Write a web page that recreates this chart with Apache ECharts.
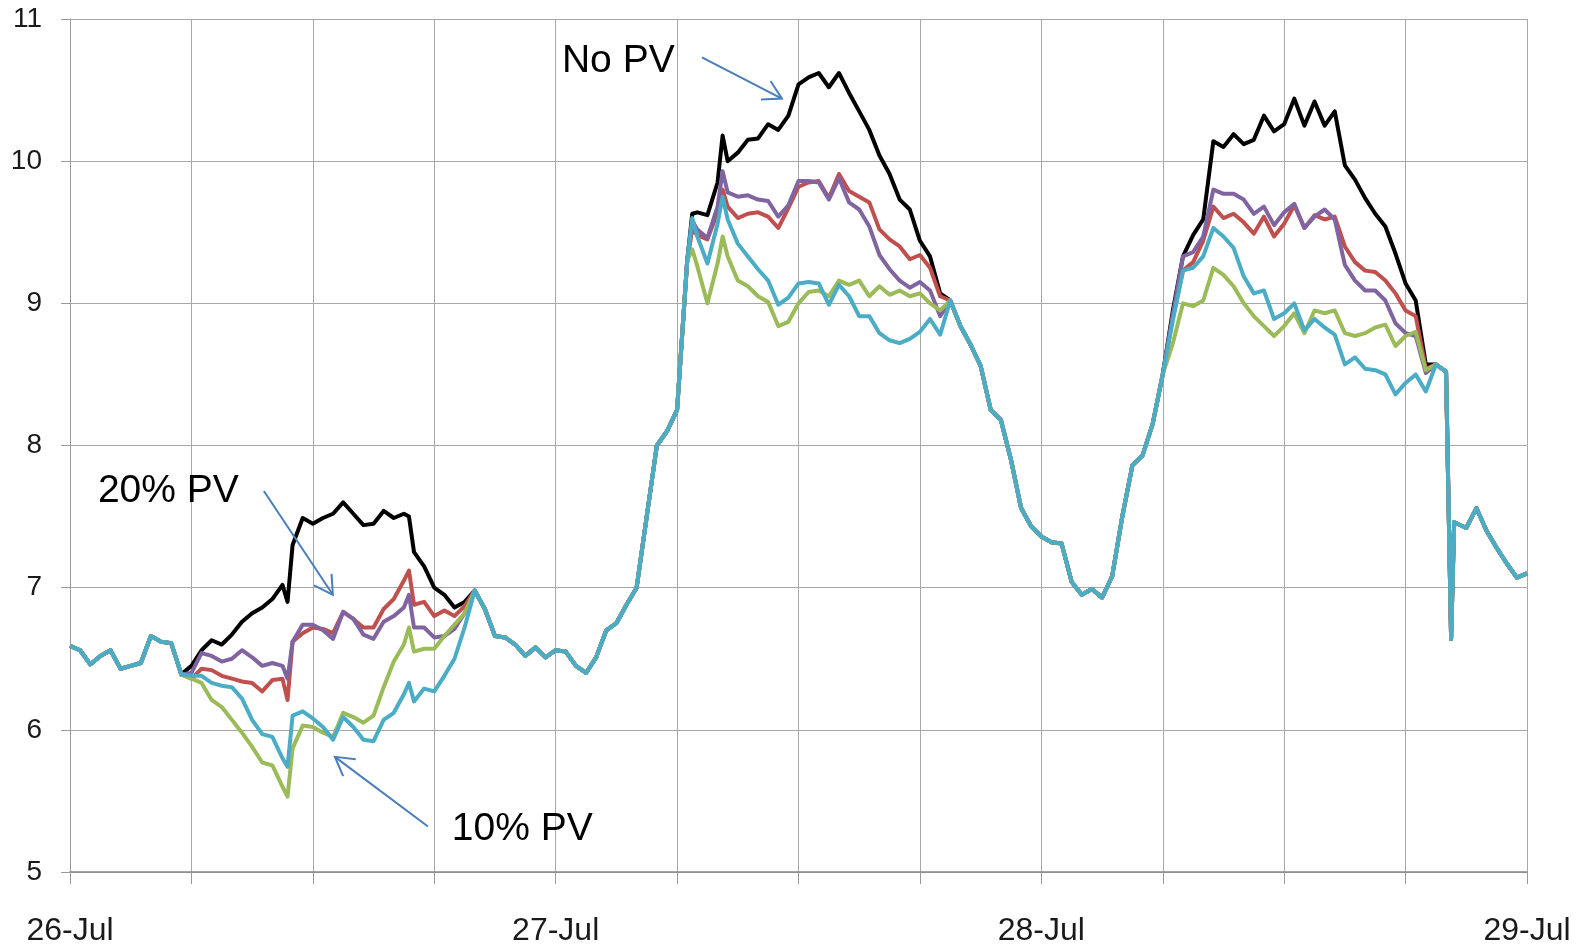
<!DOCTYPE html>
<html><head><meta charset="utf-8">
<script src="https://cdn.jsdelivr.net/npm/echarts@6/dist/echarts.min.js"></script>
<style>html,body{margin:0;padding:0;background:#fff}#chart{width:1580px;height:947px}</style>
</head><body><div id="chart"></div>
<script>
// x = hours since 26-Jul 00:00
const dayLabels = {0: '26-Jul', 24: '27-Jul', 48: '28-Jul', 72: '29-Jul'};
const yTicks = [5, 6, 7, 8, 9, 10, 11];

// Shared curve (all series coincide)
const baseHours = [0,0.5,1,1.5,2,2.5,3,3.5,4,4.5,5,5.5,
  20,20.5,21,21.5,22,22.5,23,23.5,24,24.5,25,25.5,26,26.5,27,27.5,28,28.5,29,29.5,30,30.5,
  43.5,44,44.5,45,45.5,46,46.5,47,47.5,48,48.5,49,49.5,50,50.5,51,51.5,52,52.5,53,53.5,54,
  67.5,68,68.25,68.4,69,69.5,70,70.5,71,71.5,72];
const baseValues = [6.59,6.56,6.46,6.52,6.56,6.43,6.45,6.47,6.66,6.62,6.61,6.39,
  6.98,6.85,6.66,6.65,6.6,6.52,6.58,6.51,6.56,6.55,6.45,6.4,6.51,6.7,6.75,6.88,7.0,7.5,8.0,8.1,8.25,9.3,
  9.02,8.84,8.71,8.56,8.25,8.18,7.9,7.56,7.43,7.36,7.32,7.31,7.04,6.95,6.99,6.93,7.08,7.5,7.86,7.93,8.15,8.5,
  8.57,8.52,6.64,7.46,7.42,7.56,7.4,7.28,7.17,7.07,7.1];

// Day 1 (26-Jul daytime)
const day1Hours = [6,6.5,7,7.5,8,8.5,9,9.5,10,10.5,10.75,11,11.5,12,12.5,13,13.5,14,14.5,15,15.5,16,16.5,16.75,17,17.5,18,18.5,19,19.5];
const noPv1  = [6.45,6.56,6.63,6.6,6.67,6.76,6.82,6.86,6.92,7.02,6.9,7.3,7.49,7.45,7.49,7.52,7.6,7.52,7.44,7.45,7.54,7.49,7.52,7.5,7.25,7.15,7.0,6.95,6.86,6.9];
const red1   = [6.36,6.43,6.42,6.38,6.36,6.34,6.33,6.27,6.35,6.36,6.21,6.62,6.68,6.72,6.71,6.68,6.83,6.78,6.72,6.72,6.85,6.92,7.05,7.12,6.88,6.9,6.8,6.84,6.8,6.87];
const purple1= [6.4,6.54,6.52,6.48,6.5,6.56,6.51,6.45,6.47,6.45,6.36,6.62,6.74,6.74,6.7,6.64,6.83,6.78,6.67,6.64,6.76,6.8,6.86,6.95,6.72,6.72,6.65,6.66,6.71,6.82];
const green1 = [6.36,6.33,6.21,6.16,6.07,5.98,5.88,5.77,5.75,5.6,5.53,5.87,6.03,6.02,5.98,5.95,6.12,6.09,6.05,6.1,6.3,6.48,6.6,6.72,6.55,6.57,6.57,6.66,6.74,6.82];
const cyan1  = [6.38,6.38,6.33,6.31,6.3,6.22,6.07,5.97,5.95,5.8,5.74,6.1,6.13,6.08,6.02,5.93,6.09,6.02,5.93,5.92,6.07,6.12,6.25,6.33,6.2,6.29,6.27,6.38,6.5,6.72];

// Day 2 (27-Jul daytime)
const day2Hours = [30.75,31,31.5,32,32.25,32.5,33,33.5,34,34.5,35,35.5,36,36.5,37,37.5,38,38.5,39,39.5,40,40.5,41,41.5,42,42.5,43];
const noPv2  = [9.63,9.64,9.62,9.85,10.18,10.0,10.06,10.15,10.16,10.26,10.22,10.32,10.54,10.59,10.62,10.52,10.62,10.48,10.35,10.22,10.04,9.91,9.73,9.66,9.44,9.33,9.07];
const red2   = [9.52,9.48,9.45,9.64,9.8,9.68,9.6,9.63,9.64,9.61,9.53,9.67,9.82,9.85,9.86,9.74,9.91,9.79,9.75,9.71,9.52,9.45,9.4,9.31,9.34,9.25,9.05];
const purple2= [9.58,9.52,9.46,9.68,9.93,9.78,9.75,9.76,9.73,9.72,9.61,9.69,9.86,9.86,9.85,9.73,9.88,9.71,9.66,9.54,9.34,9.24,9.16,9.11,9.15,9.09,8.91];
const green2 = [9.38,9.26,9.0,9.28,9.47,9.33,9.16,9.12,9.05,9.01,8.84,8.87,9.0,9.08,9.09,9.05,9.16,9.13,9.16,9.05,9.12,9.06,9.09,9.05,9.07,9.0,8.95];
const cyan2  = [9.6,9.47,9.28,9.56,9.75,9.59,9.42,9.33,9.24,9.16,8.99,9.04,9.14,9.15,9.14,8.99,9.13,9.05,8.91,8.91,8.79,8.74,8.72,8.75,8.8,8.89,8.78];

// Day 3 (28-Jul daytime)
const day3Hours = [54.5,55,55.5,56,56.5,57,57.5,58,58.5,59,59.5,60,60.5,61,61.5,62,62.5,63,63.5,64,64.5,65,65.5,66,66.5,67];
const noPv3  = [8.95,9.33,9.48,9.59,10.14,10.1,10.19,10.12,10.15,10.32,10.21,10.26,10.44,10.25,10.42,10.25,10.35,9.97,9.87,9.74,9.63,9.54,9.35,9.14,9.02,8.57];
const red3   = [8.9,9.23,9.29,9.44,9.68,9.6,9.63,9.57,9.49,9.61,9.47,9.56,9.69,9.53,9.62,9.59,9.61,9.4,9.29,9.23,9.22,9.16,9.07,8.95,8.91,8.54];
const purple3= [8.92,9.33,9.36,9.47,9.8,9.77,9.77,9.73,9.63,9.68,9.55,9.64,9.7,9.53,9.61,9.66,9.59,9.27,9.16,9.09,9.09,9.02,8.86,8.79,8.77,8.51];
const green3 = [8.72,9.0,8.98,9.02,9.25,9.2,9.12,9.0,8.91,8.84,8.77,8.84,8.93,8.79,8.95,8.93,8.95,8.79,8.77,8.79,8.83,8.85,8.7,8.77,8.8,8.53];
const cyan3  = [8.88,9.23,9.25,9.33,9.53,9.47,9.39,9.19,9.07,9.09,8.89,8.93,9.0,8.81,8.89,8.83,8.78,8.57,8.62,8.54,8.53,8.5,8.36,8.44,8.5,8.38];

const seriesNames  = ['No PV', 'PV A', 'PV B', 'PV C', 'PV D'];
const seriesColors = ['#000000', '#c0504d', '#8064a2', '#9bbb59', '#4bacc6'];
const dayValues = [
  [noPv1, noPv2, noPv3],
  [red1, red2, red3],
  [purple1, purple2, purple3],
  [green1, green2, green3],
  [cyan1, cyan2, cyan3]
];
const dayHours = [day1Hours, day2Hours, day3Hours];

function buildData(days) {
  const pts = baseHours.map((h, i) => [h, baseValues[i]]);
  days.forEach((vals, d) => dayHours[d].forEach((h, i) => pts.push([h, vals[i]])));
  pts.sort((a, b) => a[0] - b[0]);
  return pts;
}

const FONT = '"Liberation Sans", Arial, sans-serif';
const chart = echarts.init(document.getElementById('chart'), null, {renderer: 'canvas'});
chart.setOption({
  animation: false,
  backgroundColor: '#ffffff',
  grid: {left: 70, right: 53, top: 19, bottom: 75, containLabel: false},
  xAxis: {
    type: 'value', min: 0, max: 72, interval: 6,
    axisLine: {show: true, lineStyle: {color: '#868686', width: 1.5}},
    axisTick: {show: true, length: 12, lineStyle: {color: '#9a9a9a', width: 1}},
    splitLine: {show: true, lineStyle: {color: '#a8a8a8', width: 1}},
    axisLabel: {
      show: true, margin: 43, fontSize: 32, color: '#1a1a1a', fontFamily: FONT,
      showMinLabel: true, showMaxLabel: true,
      formatter: v => dayLabels[v] || ''
    }
  },
  yAxis: {
    type: 'value', min: yTicks[0], max: yTicks[yTicks.length - 1], interval: 1,
    axisLine: {show: true, lineStyle: {color: '#9a9a9a', width: 1}},
    axisTick: {show: true, length: 9, lineStyle: {color: '#9a9a9a'}},
    splitLine: {show: true, lineStyle: {color: '#a8a8a8', width: 1}},
    axisLabel: {margin: 28, fontSize: 28, color: '#1a1a1a', fontFamily: FONT}
  },
  series: seriesNames.map((name, i) => ({
    name, type: 'line', showSymbol: false, symbol: 'none',
    data: buildData(dayValues[i]),
    lineStyle: {color: seriesColors[i], width: 4, join: 'round'},
    itemStyle: {color: seriesColors[i]},
    z: 2 + i
  }))
});

// Annotations (anchored in data coordinates)
const annotations = [
  {text: 'No PV',  textAt: [24.31, 10.70], from: [31.23, 10.73], to: [35.18, 10.44]},
  {text: '20% PV', textAt: [1.38, 7.68],   from: [9.58, 7.68],   to: [12.99, 6.95]},
  {text: '10% PV', textAt: [18.87, 5.30],  from: [17.69, 5.32],  to: [13.09, 5.81]}
];
const px = p => chart.convertToPixel({gridIndex: 0}, p);
const graphics = [];
annotations.forEach(a => {
  const t = px(a.textAt), p0 = px(a.from), p1 = px(a.to);
  graphics.push({type: 'text', z: 100, style: {text: a.text, x: t[0], y: t[1], font: '39px ' + FONT, fill: '#000', align: 'left', verticalAlign: 'middle'}});
  graphics.push({type: 'line', z: 100, shape: {x1: p0[0], y1: p0[1], x2: p1[0], y2: p1[1]}, style: {stroke: '#4a7ebb', lineWidth: 2}});
  const ang = Math.atan2(p0[1] - p1[1], p0[0] - p1[0]);
  const L = 21, da = Math.PI / 6;
  const w1 = [p1[0] + L * Math.cos(ang + da), p1[1] + L * Math.sin(ang + da)];
  const w2 = [p1[0] + L * Math.cos(ang - da), p1[1] + L * Math.sin(ang - da)];
  graphics.push({type: 'polyline', z: 100, shape: {points: [w1, p1, w2]}, style: {stroke: '#4a7ebb', lineWidth: 2, fill: null}});
});
chart.setOption({graphic: graphics});
</script></body></html>
